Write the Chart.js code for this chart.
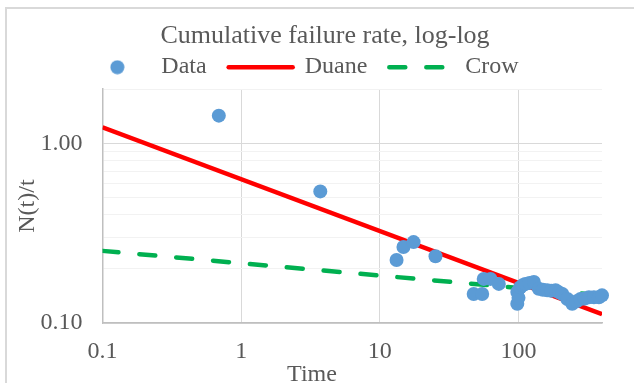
<!DOCTYPE html>
<html>
<head>
<meta charset="utf-8">
<script src="https://cdn.jsdelivr.net/npm/chart.js@4.4.0/dist/chart.umd.min.js"></script>
<style>
  html, body { margin: 0; padding: 0; background: #fff; overflow: hidden; }
  #frame { position: absolute; left: 5px; top: 7px; width: 700px; height: 500px;
           border-left: 2px solid #D9D9D9; border-top: 2px solid #D9D9D9; }
  #chart { position: absolute; left: 0; top: 0; }
</style>
</head>
<body>
<div id="frame"></div>
<canvas id="chart" width="634" height="383"></canvas>
<script>
// observed cumulative failure rate
const dataTime = [0.69, 3.72, 13.2, 14.8, 17.5, 25.2, 47.5, 54.7, 56.1, 62.8, 72.1, 98, 98, 100, 103, 107, 112, 120, 129, 140, 150, 161, 172, 185, 196, 207, 225, 244, 262, 280, 300, 322, 350, 380, 400];
const dataRate = [1.425, 0.540, 0.224, 0.265, 0.282, 0.235, 0.145, 0.145, 0.176, 0.176, 0.165, 0.128, 0.149, 0.138, 0.158, 0.162, 0.165, 0.167, 0.169, 0.155, 0.153, 0.152, 0.151, 0.152, 0.148, 0.145, 0.136, 0.128, 0.132, 0.136, 0.137, 0.139, 0.139, 0.139, 0.1425];

// fitted models
const fitTime = [0.1, 400];
const duaneRate = [1.227, 0.112];
const crowRate = [0.252, 0.1425];

const xTickLabels = ['0.1', '1', '10', '100'];
const yTickLabels = ['0.10', '1.00'];

const FONT = "'Liberation Serif', 'Times New Roman', serif";
const GREY = '#595959';
Chart.defaults.font.family = FONT;
Chart.defaults.color = GREY;

const pts = (xs, ys) => xs.map((x, i) => ({ x, y: ys[i] }));
const near = (a, b) => Math.abs(a - b) < 1e-6 * Math.max(1, b);
const isDecade = v => near(Math.log10(v), Math.round(Math.log10(v)));
const labelFor = (list, v) => list.find(s => near(v, Number(s))) || '';
// keep 1,2,...,9 x 10^n only (drop the 1.5 / 15 steps Chart.js adds)
const keepWhole = scale => {
  scale.ticks = scale.ticks.filter(t => {
    const m = t.value / Math.pow(10, Math.floor(Math.log10(t.value) + 1e-9));
    return near(m, Math.round(m));
  });
};

// legend dot for the Data series
const dot = document.createElement('canvas');
dot.width = 15; dot.height = 15;
const dctx = dot.getContext('2d');
dctx.fillStyle = '#5B9BD5';
dctx.beginPath(); dctx.arc(7.5, 7.5, 7, 0, Math.PI * 2); dctx.fill();

const nudge = {
  id: 'nudge',
  afterLayout(chart) {
    chart.titleBlock.left += 24; chart.titleBlock.right += 24;
    chart.legend.left += 1; chart.legend.right += 1;
  }
};

const timeTitle = {
  id: 'timeTitle',
  afterDraw(chart) {
    const ctx = chart.ctx;
    ctx.save();
    ctx.font = '24px ' + FONT;
    ctx.fillStyle = GREY;
    ctx.textAlign = 'center';
    ctx.textBaseline = 'alphabetic';
    ctx.fillText('Time', 312, 381);
    ctx.restore();
  }
};

new Chart(document.getElementById('chart'), {
  type: 'scatter',
  data: {
    datasets: [
      { label: 'Data', data: pts(dataTime, dataRate), backgroundColor: '#5B9BD5', borderColor: '#5B9BD5',
        pointRadius: 7, pointBorderWidth: 0, pointHoverRadius: 7, clip: false },
      { label: 'Duane', data: pts(fitTime, duaneRate), showLine: true, borderColor: '#FF0000',
        borderWidth: 4.5, pointRadius: 0, fill: false },
      { label: 'Crow', data: pts(fitTime, crowRate), showLine: true, borderColor: '#00B050',
        borderWidth: 4.5, borderDash: [16, 21], borderCapStyle: 'round', pointRadius: 0, fill: false }
    ]
  },
  options: {
    responsive: false,
    animation: false,
    layout: { padding: { left: 0, right: 32, top: 0, bottom: 0 } },
    plugins: {
      title: { display: true, text: 'Cumulative failure rate, log-log', color: GREY,
               font: { size: 26, weight: 'normal' }, padding: { top: 21, bottom: -19 } },
      legend: {
        labels: {
          usePointStyle: true, pointStyleWidth: 64, padding: 22,
          font: { size: 24 }, color: GREY,
          generateLabels: chart => chart.data.datasets.map((ds, i) => ({
            text: ds.label, datasetIndex: i, hidden: false,
            fillStyle: ds.borderColor, strokeStyle: ds.borderColor,
            lineWidth: i === 0 ? 0 : ds.borderWidth,
            lineDash: ds.borderDash || [], lineCap: 'round',
            pointStyle: i === 0 ? dot : 'line', fontColor: GREY
          }))
        }
      },
      tooltip: { enabled: false }
    },
    scales: {
      x: {
        type: 'logarithmic', min: 0.1, max: 400,
        afterBuildTicks: keepWhole,
        afterFit: s => { s.height = 60; },
        grid: { drawTicks: false, color: c => isDecade(c.tick.value) ? '#D9D9D9' : 'rgba(0,0,0,0)' },
        border: { color: '#BFBFBF', width: 1.5 },
        ticks: { autoSkip: false, maxRotation: 0, padding: 14, font: { size: 24 }, color: GREY,
                 callback: v => labelFor(xTickLabels, v) }
      },
      y: {
        type: 'logarithmic', min: 0.1, max: 2,
        afterBuildTicks: keepWhole,
        afterFit: s => { s.width = 102.5; },
        grid: { drawTicks: false, color: c => isDecade(c.tick.value) ? '#D9D9D9' : '#F2F2F2' },
        border: { color: '#BFBFBF', width: 1.5 },
        ticks: { autoSkip: false, padding: 20, font: { size: 24 }, color: GREY,
                 callback: v => labelFor(yTickLabels, v) },
        title: { display: true, text: 'N(t)/t', color: GREY, font: { size: 24 }, padding: { top: 13, bottom: 0 } }
      }
    }
  },
  plugins: [nudge, timeTitle]
});
</script>
</body>
</html>
